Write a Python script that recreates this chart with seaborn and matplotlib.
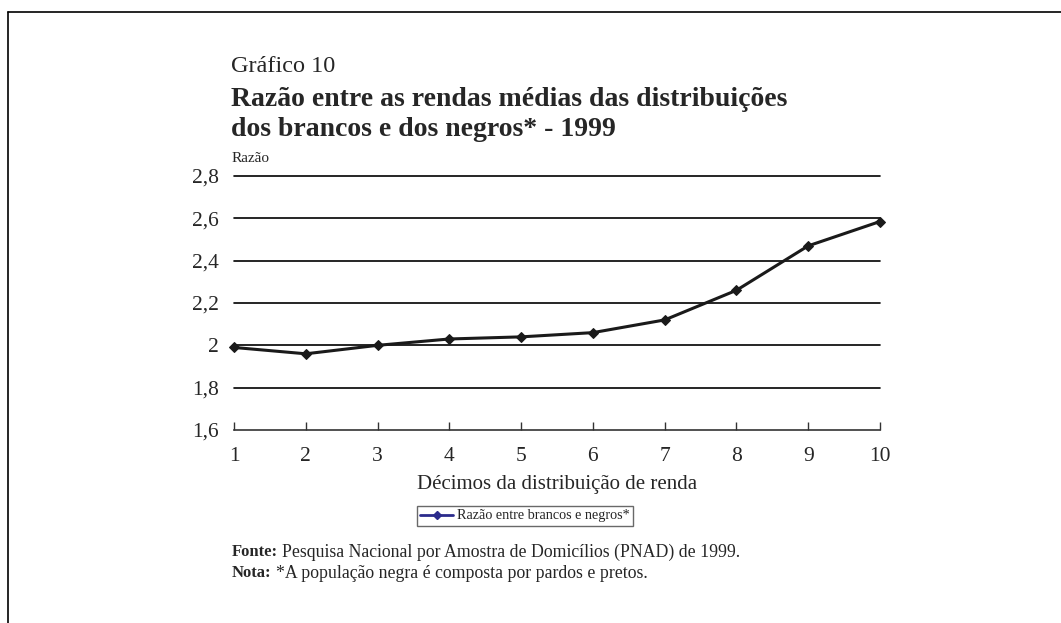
import matplotlib
matplotlib.use("Agg")
import matplotlib.pyplot as plt
from matplotlib.lines import Line2D
import seaborn as sns
import pandas as pd

decimos = [1, 2, 3, 4, 5, 6, 7, 8, 9, 10]
razao = [1.99, 1.96, 2.00, 2.03, 2.04, 2.06, 2.12, 2.26, 2.47, 2.585]
y_ticks = [1.6, 1.8, 2.0, 2.2, 2.4, 2.6, 2.8]
y_tick_labels = ["1,6", "1,8", "2", "2,2", "2,4", "2,6", "2,8"]
serie_nome = "Razão entre brancos e negros*"

sns.set_theme(style="white")
plt.rcParams["font.family"] = ["Liberation Serif", "DejaVu Serif"]

W, H = 1061, 623
fig = plt.figure(figsize=(W / 100, H / 100), dpi=100)
ax = fig.add_axes([234 / W, 1 - 430 / H, 646 / W, 254 / H])

df = pd.DataFrame({"decimo": decimos, "razao": razao})
sns.lineplot(data=df, x="decimo", y="razao", ax=ax, color="#1a1a1a",
             linewidth=2.2, marker="D", markersize=5.5,
             markeredgecolor="#1a1a1a", legend=False, clip_on=False)

ax.set_xlim(1, 10)
ax.set_ylim(1.6, 2.8)
ax.set_xticks(decimos)
ax.set_xticklabels([str(d) for d in decimos], fontsize=15.5)
ax.set_yticks(y_ticks)
ax.set_yticklabels(y_tick_labels, fontsize=15.5)
for yv in y_ticks[1:]:
    ax.axhline(yv, color="black", linewidth=1.2, zorder=0, clip_on=False)

for s in ["top", "right", "left"]:
    ax.spines[s].set_visible(False)
ax.spines["bottom"].set_color("#333333")
ax.spines["bottom"].set_linewidth(1.2)
ax.tick_params(axis="x", direction="in", length=6, width=1, color="#333333",
               pad=12, bottom=True)
ax.tick_params(axis="y", length=0, pad=11)
ax.set_xlabel("Décimos da distribuição de renda", fontsize=15, va="center")
ax.xaxis.set_label_coords(0.5, (430 - 484) / 254)
ax.set_ylabel("")
ax.grid(False)

handle = Line2D([], [], color="#2b2b8c", marker="D", markersize=4, linewidth=2)
leg = fig.legend([handle], [serie_nome], loc="center",
                 bbox_to_anchor=(525 / W, 1 - 516 / H), fontsize=10.2,
                 frameon=True, fancybox=False, handlelength=2.3,
                 borderpad=0.25, handletextpad=0.3)
leg.get_frame().set_edgecolor("#444444")
leg.get_frame().set_linewidth(1)

fig.text(231 / W, 1 - 67 / H, "Gráfico 10", fontsize=17.5, va="center", ha="left")
fig.text(231 / W, 1 - 100 / H, "Razão entre as rendas médias das distribuições",
         fontsize=20, fontweight="bold", va="center", ha="left")
fig.text(231 / W, 1 - 130 / H, "dos brancos e dos negros* - 1999",
         fontsize=20, fontweight="bold", va="center", ha="left")
fig.text(232 / W, 1 - 158 / H, "Razão", fontsize=11, va="center", ha="left")

fig.text(232 / W, 1 - 552 / H, "Fonte:", fontsize=12, fontweight="bold",
         va="center", ha="left")
fig.text(282 / W, 1 - 552 / H,
         "Pesquisa Nacional por Amostra de Domicílios (PNAD) de 1999.",
         fontsize=12.8, va="center", ha="left")
fig.text(232 / W, 1 - 573 / H, "Nota:", fontsize=12, fontweight="bold",
         va="center", ha="left")
fig.text(276 / W, 1 - 573 / H, "*A população negra é composta por pardos e pretos.",
         fontsize=12.8, va="center", ha="left")

# frame (top and left)
fig.add_artist(Line2D([7.5 / W, 7.5 / W], [0, 1 - 11.5 / H], color="black",
                      linewidth=1.2, transform=fig.transFigure))
fig.add_artist(Line2D([7.5 / W, 1], [1 - 11.5 / H, 1 - 11.5 / H], color="black",
                      linewidth=1.2, transform=fig.transFigure))

fig.savefig("out.png", dpi=100, facecolor="white")
